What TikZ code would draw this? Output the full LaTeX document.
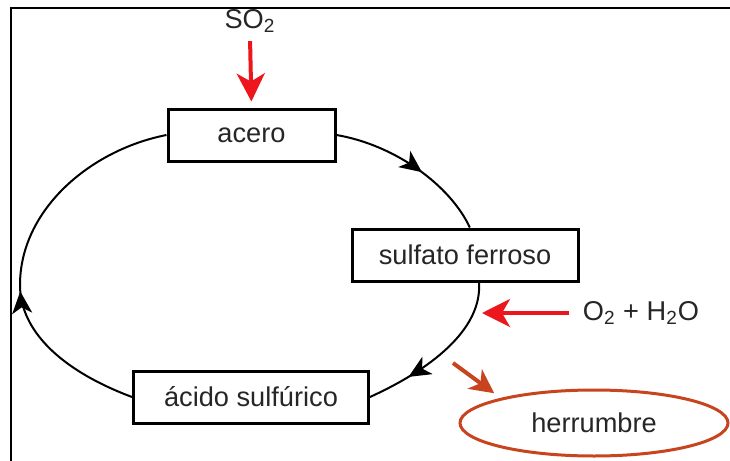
\documentclass[tikz,border=0pt]{standalone}
\usepackage{fontspec}
\setmainfont{Liberation Sans}
\usetikzlibrary{arrows.meta,decorations.markings,shapes.geometric}
\definecolor{feedred}{RGB}{236,22,28}
\definecolor{rust}{RGB}{200,68,30}
\definecolor{ink}{RGB}{38,38,38}
\begin{document}
\begin{tikzpicture}[x=0.5pt,y=-0.5pt,
  font=\fontsize{13.6}{16}\selectfont,
  stage/.style={draw=black, line width=1.5pt, fill=white, minimum height=26pt,
    text=ink, inner sep=0pt},
  label/.style={text=ink, inner sep=2pt},
  cycleline/.style={line width=1pt, black},
  flowtip/.style={postaction={decorate}, decoration={markings,
    mark=at position #1 with {\arrow{Stealth[length=11pt,width=10pt,inset=3pt]}}}},
  feed/.style={feedred, line width=2pt, -{Stealth[length=14pt,width=14pt,inset=4pt]}},
  rustfeed/.style={rust, line width=2pt, -{Stealth[length=12pt,width=12pt,inset=3.5pt]}}
]
\useasboundingbox (0,0) rectangle (730,461);

% frame
\draw[line width=1pt] (11,470) -- (11,8) -- (740,8);

% stages of the cycle
\node[stage, minimum width=83.5pt] (acero) at (251.5,135) {acero};
\node[stage, minimum width=113pt] (sulfato) at (465,255) {sulfato ferroso};
\node[stage, minimum width=117.5pt] (acido) at (251,397) {ácido sulfúrico};
\node[ellipse, draw=rust, line width=1.5pt, minimum width=134pt, minimum height=33pt,
  text=ink, inner sep=0pt] (herr) at (594,423) {herrumbre};

% closed cycle
\draw[cycleline, flowtip=0.56] (acero.east) .. controls (395,145) and (450,185) .. (sulfato.80);
\draw[cycleline, flowtip=0.74] (sulfato.-63) .. controls (482,325) and (440,365) .. (acido.east);
\draw[cycleline, flowtip=0.41] (acido.west) .. controls (60,370) and (20,330) .. (20,285)
  .. controls (20,210) and (90,150) .. (acero.west);

% inputs and output
\node[label] (so2) at (250,21) {SO\textsubscript{2}};
\draw[feed, shorten <=2pt, shorten >=3pt] (so2.south) -- (acero.north);

\node[label] (o2h2o) at (641,313) {O\textsubscript{2} + H\textsubscript{2}O};
\coordinate (o2tip) at (482,313);
\draw[feed, shorten <=5pt] (o2h2o.west) -- (o2tip);

\coordinate (ruststart) at (453,363);
\draw[rustfeed, shorten >=4pt] (ruststart) -- (herr.165);
\end{tikzpicture}
\end{document}
